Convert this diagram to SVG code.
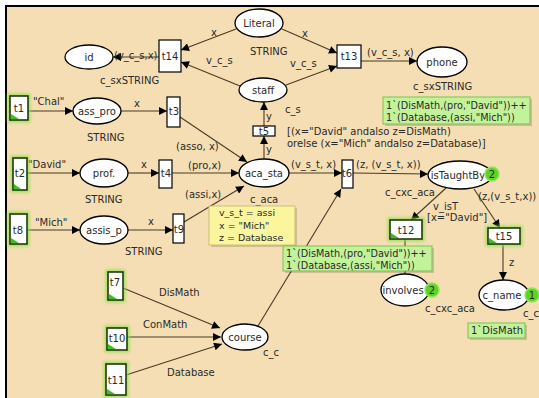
<svg xmlns="http://www.w3.org/2000/svg" width="539" height="398" viewBox="0 0 539 398">
<defs>
<marker id="ah" viewBox="0 0 10 10" refX="10" refY="5" markerWidth="9" markerHeight="8" markerUnits="userSpaceOnUse" orient="auto">
<path d="M0,0 L10,5 L0,10 z" fill="#000"/>
</marker>
<filter id="glow" x="-50%" y="-50%" width="200%" height="200%"><feGaussianBlur stdDeviation="1.5"/></filter>
</defs>
<style>
text{font-family:"DejaVu Sans","Verdana",sans-serif;font-size:10px;fill:#2a2a2a}
.pl{fill:#fff;stroke:#000;stroke-width:1.3}
.tr{fill:#fff;stroke:#000;stroke-width:1.2}
.en{fill:#fff;stroke:#1f3a0c;stroke-width:1.6}
.gl{fill:none;stroke:#8ee04a;stroke-width:5;opacity:0.8;filter:url(#glow)}
.tri{fill:#3fbf1f}
.arc{fill:none;stroke:#4a3a28;stroke-width:1.1;marker-end:url(#ah)}
.arcn{fill:none;stroke:#4a3a28;stroke-width:1.1}
.c{text-anchor:middle}
.mk{fill:#c2f29a;stroke:#7fbf52;stroke-width:1}
.sh{fill:#000;opacity:0.15}
.yb{fill:#fbf59e;stroke:#c9c07a;stroke-width:1}
.tok{fill:#5ed326;stroke:#8ee85a;stroke-width:1.5}
</style>
<rect x="0" y="0" width="539" height="398" fill="#fff"/>
<rect x="5" y="5" width="534" height="393" fill="#000"/>
<rect x="7" y="7" width="532" height="391" fill="#F5DEB3"/>

<g id="connectors">
<line class="arc" x1="159" y1="57" x2="113" y2="57"/>
<text x="114" y="59">(v_c_s,x)</text>
<line class="arc" x1="236" y1="29" x2="181" y2="50"/>
<text x="211" y="36">x</text>
<line class="arc" x1="240" y1="86" x2="181" y2="62"/>
<text x="206" y="64">v_c_s</text>
<line class="arc" x1="282" y1="29" x2="337" y2="53"/>
<text x="302" y="37">x</text>
<line class="arc" x1="286" y1="85" x2="337" y2="66"/>
<text x="290" y="67">v_c_s</text>
<line class="arc" x1="361" y1="61" x2="417" y2="61"/>
<text x="367" y="56">(v_c_s, x)</text>
<line class="arc" x1="28" y1="111" x2="73" y2="111"/>
<text x="33" y="105">"Chal"</text>
<line class="arc" x1="121" y1="111" x2="167" y2="111"/>
<text x="134" y="107">x</text>
<line class="arc" x1="180" y1="117" x2="247" y2="162"/>
<text x="176" y="150">(asso, x)</text>
<line class="arc" x1="27" y1="173" x2="80" y2="173"/>
<text x="28" y="168">"David"</text>
<line class="arc" x1="128" y1="173" x2="159" y2="173"/>
<text x="141" y="168">x</text>
<line class="arc" x1="172" y1="173" x2="239" y2="173"/>
<text x="188" y="169">(pro,x)</text>
<line class="arc" x1="184" y1="222" x2="244" y2="186"/>
<text x="185" y="198">(assi,x)</text>
<line class="arc" x1="27" y1="230" x2="80" y2="230"/>
<text x="35" y="226">"Mich"</text>
<line class="arc" x1="128" y1="230" x2="173" y2="230"/>
<text x="148" y="225">x</text>
<line class="arc" x1="264" y1="159" x2="264" y2="136"/>
<text x="266" y="153">y</text>
<line class="arc" x1="264" y1="126" x2="264" y2="102"/>
<text x="266" y="120">y</text>
<line class="arc" x1="289" y1="173" x2="342" y2="173"/>
<text x="291" y="168">(v_s_t, x)</text>
<line class="arc" x1="353" y1="173" x2="428" y2="174"/>
<text x="356" y="168">(z, (v_s_t, x))</text>
<line class="arc" x1="446" y1="188" x2="411" y2="220"/>
<text x="433" y="210">v_isT</text>
<text x="427" y="221">[x="David"]</text>
<line class="arc" x1="474" y1="189" x2="500" y2="228"/>
<text x="478" y="200">(z,(v_s_t,x))</text>
<line class="arc" x1="503" y1="244" x2="503" y2="280"/>
<text x="509" y="266">z</text>
<line class="arcn" x1="405" y1="239" x2="405" y2="274"/>
<line class="arc" x1="123" y1="288" x2="220" y2="328"/>
<text x="159" y="296">DisMath</text>
<line class="arc" x1="127" y1="337" x2="221" y2="337"/>
<text x="143" y="328">ConMath</text>
<line class="arc" x1="126" y1="375" x2="222" y2="344"/>
<text x="167" y="376">Database</text>
<line class="arc" x1="258" y1="326" x2="341" y2="189"/>
</g>

<g id="Literal"><ellipse class="pl" cx="259" cy="23" rx="24" ry="14"/><text class="c" x="259" y="27">Literal</text><text x="250" y="55">STRING</text></g>
<g id="id"><ellipse class="pl" cx="89" cy="57" rx="24" ry="12"/><text class="c" x="89" y="61">id</text><text x="100" y="84">c_sxSTRING</text></g>
<g id="staff"><ellipse class="pl" cx="263" cy="90" rx="24" ry="12"/><text class="c" x="263" y="94">staff</text><text x="285" y="113">c_s</text></g>
<g id="phone"><ellipse class="pl" cx="442" cy="62" rx="25" ry="15"/><text class="c" x="442" y="66">phone</text><text x="413" y="90">c_sxSTRING</text></g>
<g id="ass_pro"><ellipse class="pl" cx="97" cy="111" rx="24" ry="13"/><text class="c" x="97" y="115">ass_pro</text><text x="87" y="141">STRING</text></g>
<g id="prof"><ellipse class="pl" cx="104" cy="173" rx="24" ry="14"/><text class="c" x="104" y="177">prof.</text><text x="85" y="203">STRING</text></g>
<g id="assis_p"><ellipse class="pl" cx="104" cy="230" rx="24" ry="14"/><text class="c" x="104" y="234">assis_p</text><text x="125" y="255">STRING</text></g>
<g id="aca_sta"><ellipse class="pl" cx="264" cy="173" rx="25" ry="14"/><text class="c" x="264" y="177">aca_sta</text><text x="250" y="203">c_aca</text></g>
<g id="isTaughtBy"><ellipse class="pl" cx="460" cy="175" rx="32" ry="14"/><text class="c" x="458" y="179">isTaughtBy</text><circle class="tok" cx="492" cy="174" r="7"/><text class="c" x="492" y="178">2</text><text x="385" y="196">c_cxc_aca</text></g>
<g id="involves"><ellipse class="pl" cx="405" cy="290" rx="24" ry="16"/><text class="c" x="403" y="294">involves</text><circle class="tok" cx="432" cy="290" r="7"/><text class="c" x="432" y="294">2</text><text x="425" y="312">c_cxc_aca</text></g>
<g id="c_name"><ellipse class="pl" cx="504" cy="295" rx="25" ry="15"/><text class="c" x="502" y="299">c_name</text><circle class="tok" cx="532" cy="295" r="7"/><text class="c" x="532" y="299">1</text><text x="523" y="317">c_c</text></g>
<g id="course"><ellipse class="pl" cx="245" cy="337" rx="23" ry="13"/><text class="c" x="245" y="341">course</text><text x="263" y="356">c_c</text></g>

<g id="t14"><rect class="tr" x="159" y="40" width="22" height="32"/><text class="c" x="170" y="60">t14</text></g>
<g id="t13"><rect class="tr" x="337" y="45" width="24" height="23"/><text class="c" x="349" y="60">t13</text></g>
<g id="t3"><rect class="tr" x="167" y="97" width="13" height="30"/><text class="c" x="174" y="115">t3</text></g>
<g id="t5"><rect class="tr" x="253" y="126" width="22" height="10"/><text class="c" x="264" y="135">t5</text></g>
<g id="t4"><rect class="tr" x="159" y="160" width="13" height="28"/><text class="c" x="166" y="177">t4</text></g>
<g id="t6"><rect class="tr" x="342" y="160" width="11" height="28"/><text class="c" x="347" y="177">t6</text></g>
<g id="t9"><rect class="tr" x="173" y="214" width="11" height="29"/><text class="c" x="179" y="233">t9</text></g>

<g id="t1"><rect class="gl" x="10" y="96" width="18" height="24"/><rect class="en" x="10" y="96" width="18" height="24"/><path class="tri" d="M11,119 L11,114 L19,119 z"/><text class="c" x="19" y="112">t1</text></g>
<g id="t2"><rect class="gl" x="13" y="158" width="14" height="32"/><rect class="en" x="13" y="158" width="14" height="32"/><path class="tri" d="M14,189 L14,184 L21,189 z"/><text class="c" x="20" y="177">t2</text></g>
<g id="t8"><rect class="gl" x="10" y="214" width="17" height="30"/><rect class="en" x="10" y="214" width="17" height="30"/><path class="tri" d="M11,243 L11,238 L19,243 z"/><text class="c" x="18" y="234">t8</text></g>
<g id="t12"><rect class="gl" x="390" y="220" width="32" height="19"/><rect class="en" x="390" y="220" width="32" height="19"/><path class="tri" d="M391,238 L391,233 L399,238 z"/><text class="c" x="406" y="234">t12</text></g>
<g id="t15"><rect class="gl" x="488" y="228" width="32" height="16"/><rect class="en" x="488" y="228" width="32" height="16"/><path class="tri" d="M489,243 L489,238 L497,243 z"/><text class="c" x="504" y="240">t15</text></g>
<g id="t7"><rect class="gl" x="108" y="272" width="15" height="28"/><rect class="en" x="108" y="272" width="15" height="28"/><path class="tri" d="M109,299 L109,294 L117,299 z"/><text class="c" x="115" y="286">t7</text></g>
<g id="t10"><rect class="gl" x="107" y="328" width="20" height="22"/><rect class="en" x="107" y="328" width="20" height="22"/><path class="tri" d="M108,349 L108,344 L116,349 z"/><text class="c" x="117" y="342">t10</text></g>
<g id="t11"><rect class="gl" x="106" y="364" width="20" height="31"/><rect class="en" x="106" y="364" width="20" height="31"/><path class="tri" d="M107,394 L107,389 L115,394 z"/><text class="c" x="116" y="384">t11</text></g>

<g id="guard_t6"><text x="287" y="135">[(x="David" andalso z=DisMath)</text><text x="287" y="147">orelse (x="Mich" andalso z=Database)]</text></g>
<g id="binding"><rect class="sh" x="211" y="208" width="86" height="39"/><rect class="yb" x="209" y="206" width="86" height="39"/><text x="219" y="216" style="font-size:9.5px">v_s_t = assi</text><text x="219" y="229" style="font-size:9.5px">x = "Mich"</text><text x="219" y="241" style="font-size:9.5px">z = Database</text></g>
<g id="mark_phone"><rect class="sh" x="385" y="99" width="147" height="27"/><rect class="mk" x="383" y="97" width="147" height="27"/><text x="386" y="109" style="font-size:9.7px">1`(DisMath,(pro,"David"))++</text><text x="386" y="121" style="font-size:9.7px">1`(Database,(assi,"Mich"))</text></g>
<g id="mark_involves"><rect class="sh" x="285" y="248" width="149" height="25"/><rect class="mk" x="283" y="246" width="149" height="25"/><text x="286" y="257" style="font-size:9.7px">1`(DisMath,(pro,"David"))++</text><text x="286" y="269" style="font-size:9.7px">1`(Database,(assi,"Mich"))</text></g>
<g id="mark_c_name"><rect class="sh" x="470" y="325" width="57" height="15"/><rect class="mk" x="468" y="323" width="57" height="15"/><text x="471" y="334">1`DisMath</text></g>
</svg>
